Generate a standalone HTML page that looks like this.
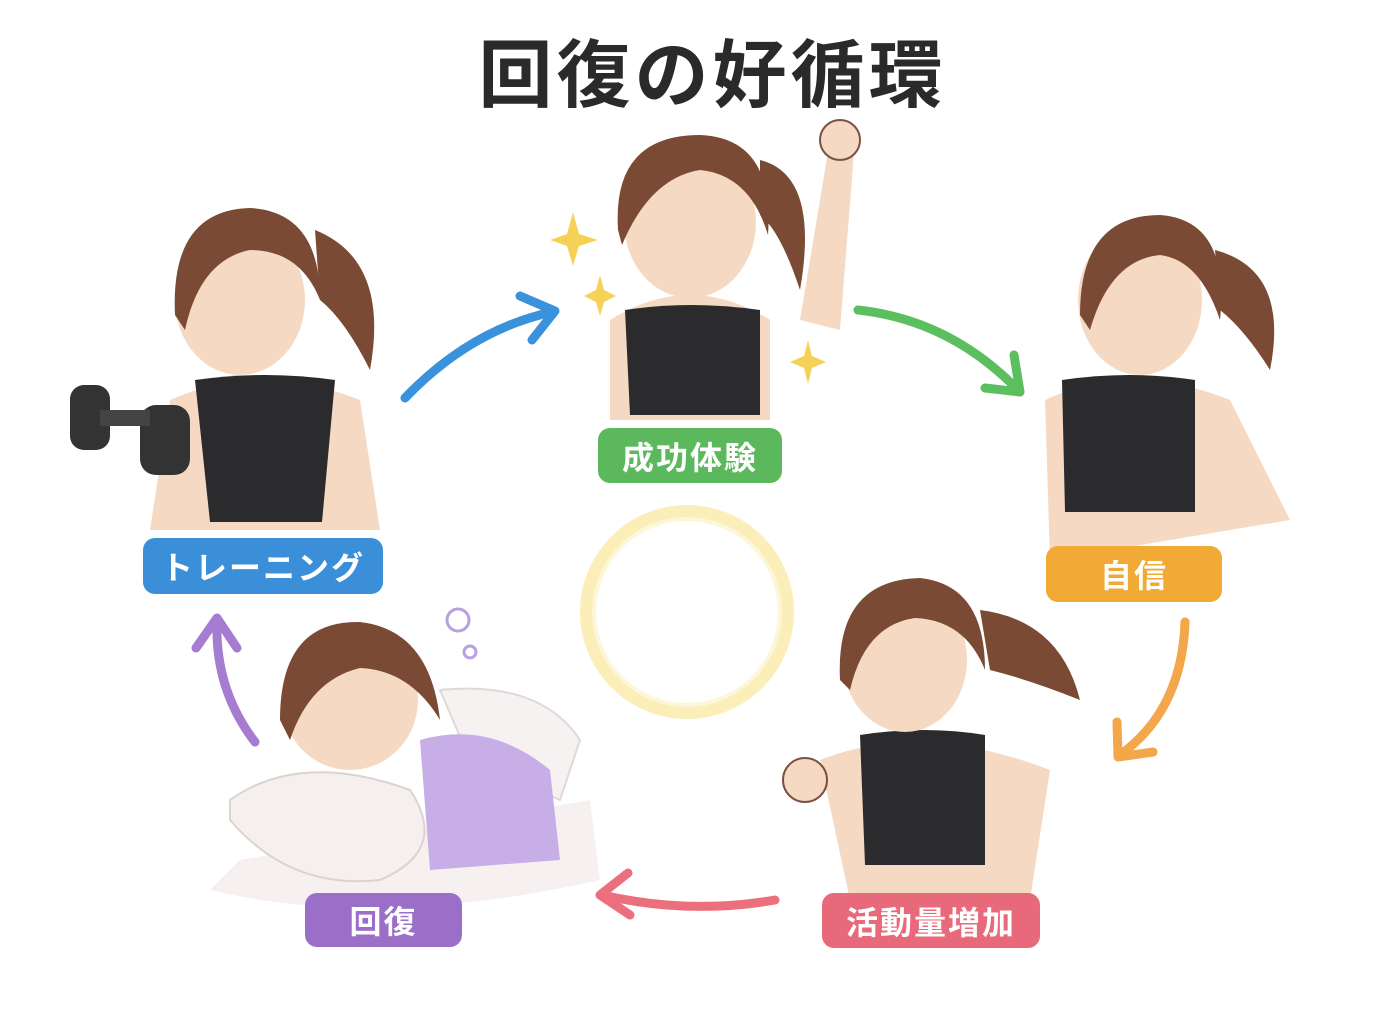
<!DOCTYPE html>
<html><head><meta charset="utf-8"><style>
html,body{margin:0;padding:0;background:#fff;}
body{width:1373px;height:1024px;position:relative;overflow:hidden;font-family:"Liberation Sans","Noto Sans CJK JP",sans-serif;}
.t{position:absolute;left:26px;width:1373px;top:16px;text-align:center;font-size:74px;font-weight:bold;color:#2a2a2a;letter-spacing:4px;}
.l{position:absolute;color:#fff;font-weight:bold;font-size:32px;display:flex;align-items:center;justify-content:center;border-radius:12px;letter-spacing:2px;}
</style></head><body>
<svg width="1373" height="1024" style="position:absolute;left:0;top:0">
<circle cx="687" cy="612" r="100" fill="none" stroke="#fbeeb8" stroke-width="14"/>
<circle cx="687" cy="612" r="93" fill="none" stroke="#fdf6d8" stroke-width="4"/>
<g fill="none" stroke-width="9" stroke-linecap="round" stroke-linejoin="round">
<path d="M405,398 Q470,330 552,312" stroke="#3a92dc"/><path d="M520,296 L555,311 L532,340" stroke="#3a92dc"/>
<path d="M858,310 Q950,320 1018,390" stroke="#5cbf5f"/><path d="M1014,355 L1020,392 L985,388" stroke="#5cbf5f"/>
<path d="M1185,622 Q1182,710 1120,755" stroke="#f4a64a"/><path d="M1117,722 L1118,757 L1153,752" stroke="#f4a64a"/>
<path d="M775,900 Q690,915 602,895" stroke="#ec6f7e"/><path d="M628,873 L600,895 L630,915" stroke="#ec6f7e"/>
<path d="M255,742 Q215,690 217,622" stroke="#a57cd0"/><path d="M196,648 L217,618 L237,648" stroke="#a57cd0"/>
</g>
<g>
<path d="M800,320 L830,140 L855,140 L840,330 Z" fill="#f6d9c2"/>
<circle cx="840" cy="140" r="20" fill="#f6d9c2" stroke="#7a5040" stroke-width="2"/>
<path d="M610,320 Q690,270 770,320 L770,420 L610,420 Z" fill="#f6d9c2"/>
<path d="M625,310 Q690,300 760,310 L760,415 L630,415 Z" fill="#2b2b2e"/>
<ellipse cx="690" cy="222" rx="66" ry="76" fill="#f6d9c2"/>
<path d="M618,230 Q612,135 700,135 Q775,138 768,235 Q750,175 700,170 Q650,178 622,245 Z" fill="#7b4a34"/>
<path d="M760,160 Q820,175 800,290 Q780,230 760,215 Z" fill="#7b4a34"/>
</g>
<g>
<path d="M170,400 Q260,360 360,400 L380,530 L150,530 Z" fill="#f6d9c2"/>
<path d="M195,380 Q265,370 335,380 L322,522 L210,522 Z" fill="#2b2b2e"/>
<ellipse cx="240" cy="300" rx="65" ry="75" fill="#f6d9c2"/>
<path d="M175,315 Q170,210 250,208 Q320,212 320,300 Q300,250 250,250 Q200,260 185,330 Z" fill="#7b4a34"/>
<path d="M315,230 Q390,260 370,370 Q345,320 320,300 Z" fill="#7b4a34"/>
<rect x="70" y="385" width="40" height="65" rx="14" fill="#333"/>
<rect x="140" y="405" width="50" height="70" rx="16" fill="#333"/>
<rect x="100" y="410" width="50" height="16" fill="#444"/>
</g>
<g>
<path d="M1045,400 Q1130,360 1230,400 L1290,520 L1050,560 Z" fill="#f6d9c2"/>
<path d="M1062,380 Q1130,370 1195,380 L1195,512 L1065,512 Z" fill="#2b2b2e"/>
<ellipse cx="1140" cy="300" rx="62" ry="75" fill="#f6d9c2"/>
<path d="M1080,315 Q1080,215 1160,215 Q1230,220 1220,320 Q1200,260 1160,255 Q1110,260 1090,330 Z" fill="#7b4a34"/>
<path d="M1215,250 Q1290,270 1270,370 Q1245,330 1220,310 Z" fill="#7b4a34"/>
</g>
<g>
<path d="M820,760 Q920,720 1050,770 L1030,900 L850,900 Z" fill="#f6d9c2"/>
<path d="M860,735 Q925,725 985,735 L985,865 L865,865 Z" fill="#2b2b2e"/>
<circle cx="805" cy="780" r="22" fill="#f6d9c2" stroke="#7a5040" stroke-width="2"/>
<ellipse cx="905" cy="660" rx="62" ry="72" fill="#f6d9c2"/>
<path d="M840,680 Q835,580 920,578 Q985,585 985,670 Q965,620 915,618 Q865,625 850,690 Z" fill="#7b4a34"/>
<path d="M980,610 Q1060,620 1080,700 Q1030,680 990,670 Z" fill="#7b4a34"/>
</g>
<g>
<path d="M440,690 Q540,680 580,740 L560,800 L470,760 Z" fill="#f7f2f2" stroke="#e0d8d8" stroke-width="2"/>
<path d="M210,890 Q380,930 600,880 L590,800 L240,860 Z" fill="#f6f0f0"/>
<path d="M420,740 Q490,720 550,770 L560,860 L430,870 Z" fill="#c7aee6"/>
<ellipse cx="350" cy="700" rx="68" ry="70" fill="#f6d9c2"/>
<path d="M280,720 Q280,620 360,622 Q430,630 440,720 Q410,670 360,668 Q310,680 290,740 Z" fill="#7b4a34"/>
<path d="M230,800 Q300,750 410,790 Q450,850 380,880 Q290,890 230,820 Z" fill="#f5f0ee" stroke="#ddd2d0" stroke-width="2"/>
<circle cx="458" cy="620" r="11" fill="none" stroke="#b9a0e0" stroke-width="3"/>
<circle cx="470" cy="652" r="6" fill="none" stroke="#b9a0e0" stroke-width="3"/>
</g>
<g fill="#f5d257">
<path d="M573,212 L579,234 L598,240 L579,246 L573,266 L567,246 L550,240 L567,234Z"/>
<path d="M600,275 L604,290 L616,296 L604,302 L600,316 L596,302 L584,296 L596,290Z"/>
<path d="M808,340 L812,356 L826,362 L812,368 L808,384 L804,368 L790,362 L804,356Z"/>
</g>
</svg>
<div class="t">回復の好循環</div>
<div class="l" style="left:598px;top:428px;width:184px;height:55px;background:#5cb85c;">成功体験</div>
<div class="l" style="left:143px;top:538px;width:240px;height:56px;background:#3a8fd8;">トレーニング</div>
<div class="l" style="left:1046px;top:546px;width:176px;height:56px;background:#f0aa35;">自信</div>
<div class="l" style="left:822px;top:893px;width:218px;height:55px;background:#e8697a;">活動量増加</div>
<div class="l" style="left:305px;top:893px;width:157px;height:54px;background:#9b6fc8;">回復</div>
</body></html>
